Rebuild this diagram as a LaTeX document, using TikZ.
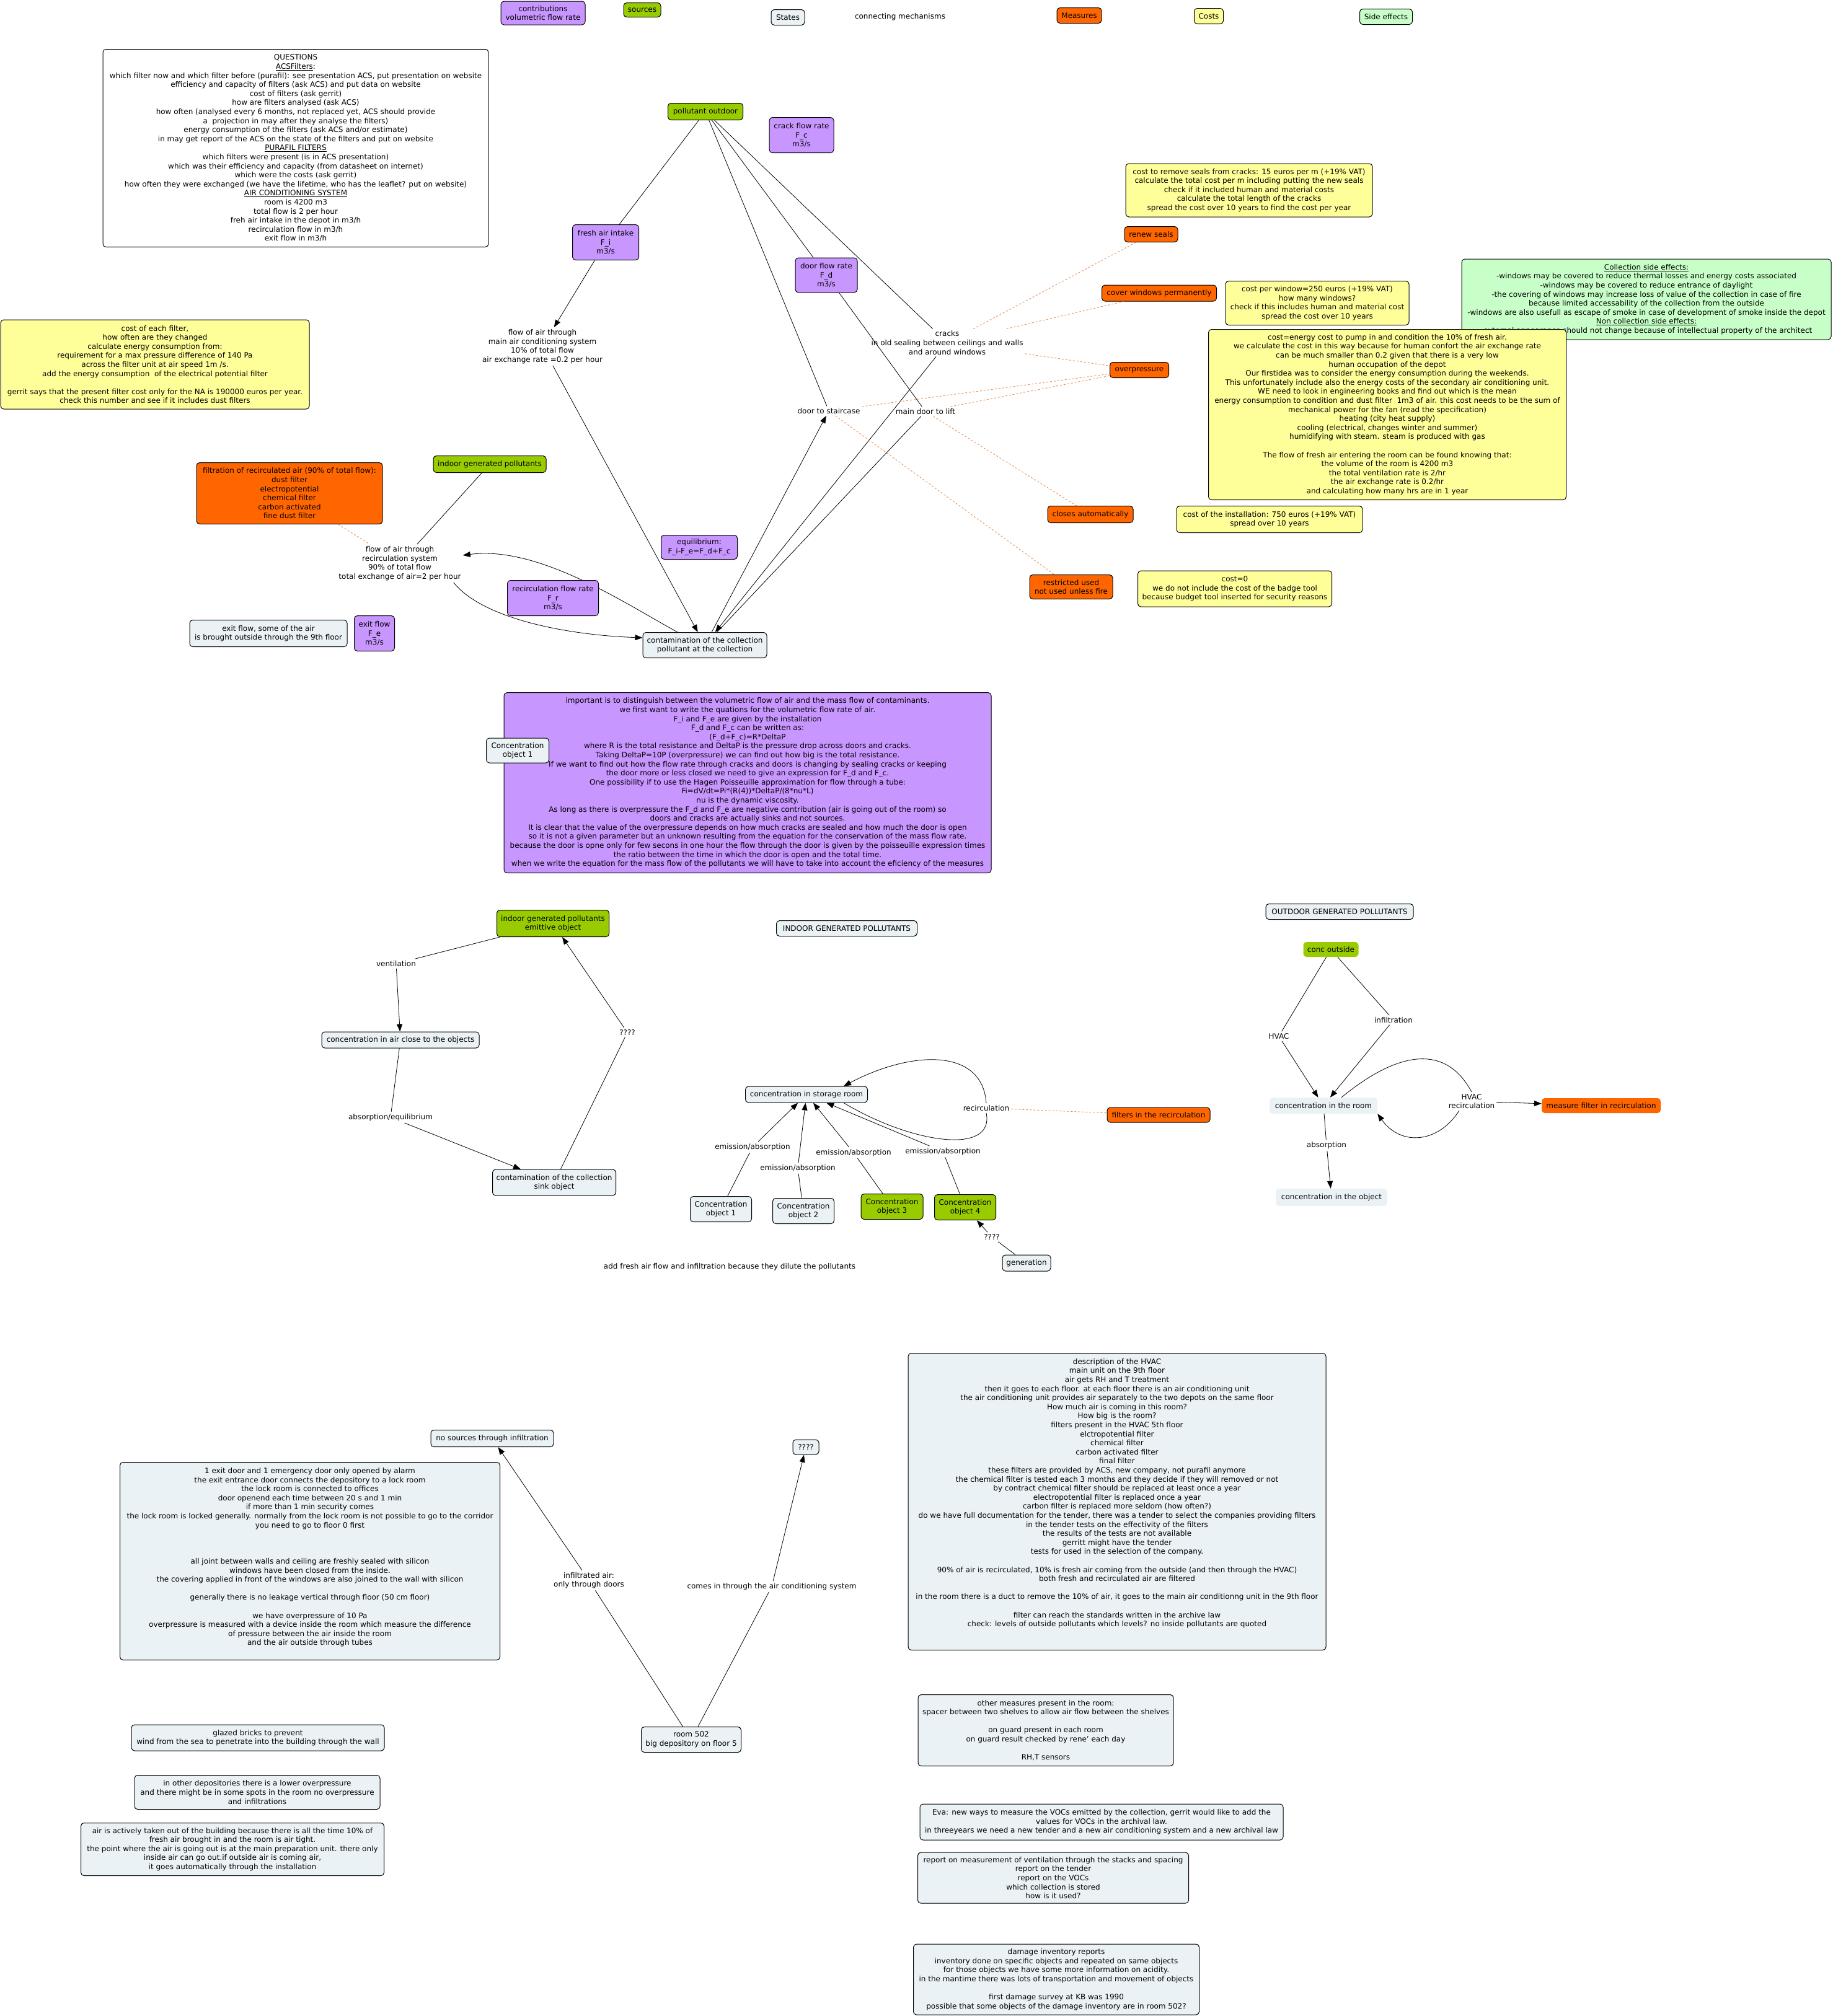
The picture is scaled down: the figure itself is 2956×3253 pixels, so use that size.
\documentclass[tikz,border=0pt]{standalone}
\usepackage{fontspec}
\setmainfont{DejaVu Sans}
\usepackage{xcolor}
\usepackage{tikz}
\usetikzlibrary{arrows.meta}

\definecolor{cmpurple}{RGB}{200,150,255}
\definecolor{cmgreen}{RGB}{153,204,0}
\definecolor{cmstate}{RGB}{235,242,245}
\definecolor{cmorange}{RGB}{255,102,0}
\definecolor{cmyellow}{RGB}{255,255,153}
\definecolor{cmside}{RGB}{200,255,200}
\definecolor{cmdash}{RGB}{232,140,80}

\begin{document}
\begin{tikzpicture}[
  x=1pt, y=-1pt,
  font=\fontsize{12pt}{14.6pt}\selectfont,
  box/.style = {draw, rounded corners=5pt, align=center, inner sep=3pt, line width=1pt},
  wh/.style 2 args = {minimum width=#1pt, minimum height=#2pt},
  volbox/.style = {box, fill=cmpurple},
  srcbox/.style = {box, fill=cmgreen},
  statebox/.style = {box, fill=cmstate},
  notebox/.style = {box, fill=white},
  measbox/.style = {box, fill=cmorange},
  costbox/.style = {box, fill=cmyellow},
  sidebox/.style = {box, fill=cmside},
  flatbox/.style = {rounded corners=5pt, align=center, inner sep=3pt},
  phrase/.style = {align=center, inner sep=3pt},
  conn/.style = {line width=0.8pt},
  seta/.style = {conn, -{Triangle[length=12pt, width=9pt]}},
  hint/.style = {cmdash, line width=0.9pt, dash pattern=on 3pt off 3pt},
]
\useasboundingbox (0,0) rectangle (2956,3253);

\node[volbox, wh={136}{38}] (lgvol) at (876,21) {contributions\\volumetric flow rate};
\node[srcbox, wh={60}{23}] (lgsrc) at (1036,16) {sources};
\node[statebox, wh={54}{25}] (lgstate) at (1271,28) {States};
\node[phrase] (lgconn) at (1452,27) {connecting mechanisms};
\node[measbox, wh={72}{25}] (lgmeas) at (1741,25) {Measures};
\node[costbox, wh={47}{25}] (lgcost) at (1950,26) {Costs};
\node[sidebox, wh={85}{25}] (lgside) at (2236,27) {Side effects};

\node[notebox, wh={622}{319}] (questions) at (477,239) {QUESTIONS\\\underline{ACSFilters}:\\which filter now and which filter before (purafil): see presentation ACS, put presentation on website\\efficiency and capacity of filters (ask ACS) and put data on website\\cost of filters (ask gerrit)\\how are filters analysed (ask ACS)\\how often (analysed every 6 months, not replaced yet, ACS should provide\\a\ \ projection in may after they analyse the filters)\\energy consumption of the filters (ask ACS and/or estimate)\\in may get report of the ACS on the state of the filters and put on website\\\underline{PURAFIL FILTERS}\\which filters were present (is in ACS presentation)\\which was their efficiency and capacity (from datasheet on internet)\\which were the costs (ask gerrit)\\how often they were exchanged (we have the lifetime, who has the leaflet? put on website)\\\underline{AIR CONDITIONING SYSTEM}\\room is 4200 m3\\total flow is 2 per hour\\freh air intake in the depot in m3/h\\recirculation flow in m3/h\\exit flow in m3/h};
\node[costbox, wh={498}{144}] (filtercost) at (250,588) {cost of each filter,\\how often are they changed\\calculate energy consumption from:\\requirement for a max pressure difference of 140 Pa\\across the filter unit at air speed 1m /s.\\add the energy consumption\ \ of the electrical potential filter\\[14.6pt]gerrit says that the present filter cost only for the NA is 190000 euros per year.\\check this number and see if it includes dust filters};
\node[measbox, wh={300}{99}] (filtration) at (467,796) {filtration of recirculated air (90\% of total flow):\\dust filter\\electropotential\\chemical filter\\carbon activated\\fine dust filter};
\node[srcbox, wh={182}{27}] (indoorpoll) at (790,749) {indoor generated pollutants};
\node[phrase] (recflow) at (645,909) {flow of air through\\recirculation system\\90\% of total flow\\total exchange of air=2 per hour};
\node[phrase] (mainflow) at (875,559) {flow of air through\\main air conditioning system\\10\% of total flow\\air exchange rate =0.2 per hour};
\node[statebox, wh={254}{43}] (exittext) at (433,1022) {exit flow, some of the air\\is brought outside through the 9th floor};
\node[volbox, wh={65}{57}] (exitrate) at (604,1022) {exit flow\\F\_e\\m3/s};
\node[srcbox, wh={121}{27}] (outdoor) at (1138,180) {pollutant outdoor};
\node[volbox, wh={104}{57}] (crackrate) at (1293,218) {crack flow rate\\F\_c\\m3/s};
\node[volbox, wh={107}{57}] (freshrate) at (977,391) {fresh air intake\\F\_i\\m3/s};
\node[volbox, wh={100}{56}] (doorrate) at (1333,444) {door flow rate\\F\_d\\m3/s};
\node[phrase] (cracks) at (1528,553) {cracks\\in old sealing between ceilings and walls\\and around windows};
\node[phrase] (staircase) at (1337,663) {door to staircase};
\node[phrase] (lift) at (1493,664) {main door to lift};
\node[volbox, wh={123}{39}] (equil) at (1128,883) {equilibrium:\\F\_i-F\_e=F\_d+F\_c};
\node[statebox, wh={200}{41}] (contam) at (1137,1041) {contamination of the collection\\pollutant at the collection};

\node[costbox, wh={398}{86}] (sealcost) at (2015,307) {cost to remove seals from cracks: 15 euros per m (+19\% VAT)\\calculate the total cost per m including putting the new seals\\check if it included human and material costs\\calculate the total length of the cracks\\spread the cost over 10 years to find the cost per year};
\node[measbox, wh={86}{25}] (renew) at (1857,378) {renew seals};
\node[measbox, wh={185}{26}] (cover) at (1870,473) {cover windows permanently};
\node[costbox, wh={296}{71}] (windowcost) at (2125,489) {cost per window=250 euros (+19\% VAT)\\how many windows?\\check if this includes human and material cost\\spread the cost over 10 years};
\node[sidebox, wh={596}{130}] (sideeff) at (2656,483) {\underline{Collection side effects:}\\-windows may be covered to reduce thermal losses and energy costs associated\\-windows may be covered to reduce entrance of daylight\\-the covering of windows may increase loss of value of the collection in case of fire\\because limited accessability of the collection from the outside\\-windows are also usefull as escape of smoke in case of development of smoke inside the depot\\\underline{Non collection side effects:}\\-external appearance should not change because of intellectual property of the architect};
\node[costbox, wh={577}{275}] (energycost) at (2238,669) {cost=energy cost to pump in and condition the 10\% of fresh air.\\we calculate the cost in this way because for human confort the air exchange rate\\can be much smaller than 0.2 given that there is a very low\\human occupation of the depot\\Our firstidea was to consider the energy consumption during the weekends.\\This unfortunately include also the energy costs of the secondary air conditioning unit.\\WE need to look in engineering books and find out which is the mean\\energy consumption to condition and dust filter\ \ 1m3 of air. this cost needs to be the sum of\\mechanical power for the fan (read the specification)\\heating (city heat supply)\\cooling (electrical, changes winter and summer)\\humidifying with steam. steam is produced with gas\\[14.6pt]The flow of fresh air entering the room can be found knowing that:\\the volume of the room is 4200 m3\\the total ventilation rate is 2/hr\\the air exchange rate is 0.2/hr\\and calculating how many hrs are in 1 year};
\node[measbox, wh={95}{25}] (overpres) at (1838,597) {overpressure};
\node[measbox, wh={138}{27}] (closes) at (1759,830) {closes automatically};
\node[costbox, wh={300}{43}] (installcost) at (2048,838) {cost of the installation: 750 euros (+19\% VAT)\\spread over 10 years};
\node[measbox, wh={134}{39}] (restricted) at (1728,947) {restricted used\\not used unless fire};
\node[costbox, wh={313}{58}] (badgecost) at (1992,950) {cost=0\\we do not include the cost of the badge tool\\because budget tool inserted for security reasons};

\draw[conn] (outdoor) -- (freshrate);
\draw[seta] (freshrate) -- (mainflow);
\draw[seta] (mainflow) -- (contam);
\draw[conn] (outdoor) -- (staircase);
\draw[seta] (contam) -- (staircase);
\draw[conn] (outdoor) -- (doorrate);
\draw[conn] (doorrate) -- (lift);
\draw[conn] (lift) -- (contam);
\draw[conn] (outdoor) -- (cracks);
\draw[seta] (cracks) -- (contam);
\draw[conn] (indoorpoll) -- (recflow);
\draw[seta] ([xshift=-44pt]contam.north) .. controls (1010,975) and (870,880) .. ([yshift=13pt]recflow.east);
\draw[seta] ([xshift=-15pt]recflow.south east) .. controls (780,1000) and (920,1025) .. ([yshift=12pt]contam.west);
\draw[hint] (filtration) -- (recflow);
\draw[hint] (cracks) -- (renew);
\draw[hint] (cracks) -- (cover);
\draw[hint] (cracks) -- (overpres);
\draw[hint] (staircase) -- (overpres);
\draw[hint] (lift) -- (overpres);
\draw[hint] (lift) -- (closes);
\draw[hint] (staircase) -- (restricted);

\node[volbox, wh={147}{57}] (recrate) at (892,965) {recirculation flow rate\\F\_r\\m3/s};

\node[volbox, wh={786}{291}] (notes) at (1206,1263) {important is to distinguish between the volumetric flow of air and the mass flow of contaminants.\\we first want to write the quations for the volumetric flow rate of air.\\F\_i and F\_e are given by the installation\\F\_d and F\_c can be written as:\\(F\_d+F\_c)=R*DeltaP\\where R is the total resistance and DeltaP is the pressure drop across doors and cracks.\\Taking DeltaP=10P (overpressure) we can find out how big is the total resistance.\\If we want to find out how the flow rate through cracks and doors is changing by sealing cracks or keeping\\the door more or less closed we need to give an expression for F\_d and F\_c.\\One possibility if to use the Hagen Poisseuille approximation for flow through a tube:\\Fi=dV/dt=Pi*(R(4))*DeltaP/(8*nu*L)\\nu is the dynamic viscosity.\\As long as there is overpressure the F\_d and F\_e are negative contribution (air is going out of the room) so\\doors and cracks are actually sinks and not sources.\\It is clear that the value of the overpressure depends on how much cracks are sealed and how much the door is open\\so it is not a given parameter but an unknown resulting from the equation for the conservation of the mass flow rate.\\because the door is opne only for few secons in one hour the flow through the door is given by the poisseuille expression times\\the ratio between the time in which the door is open and the total time.\\when we write the equation for the mass flow of the pollutants we will have to take into account the eficiency of the measures};
\node[statebox, wh={101}{40}] (noteobj) at (835,1211) {Concentration\\object 1};

\node[srcbox, wh={181}{43}] (emittive) at (892,1490) {indoor generated pollutants\\emittive object};
\node[statebox, wh={227}{25}] (indoortitle) at (1366,1498) {INDOOR GENERATED POLLUTANTS};
\node[phrase] (ventil) at (639,1555) {ventilation};
\node[statebox, wh={254}{26}] (airclose) at (646,1678) {concentration in air close to the objects};
\node[phrase] (abseq) at (630,1803) {absorption/equilibrium};
\node[statebox, wh={199}{42}] (sink) at (894,1908) {contamination of the collection\\sink object};
\node[phrase] (unknowna) at (1012,1666) {????};
\node[statebox, wh={197}{26}] (storage) at (1301,1766) {concentration in storage room};
\node[phrase] (recirc) at (1591,1788) {recirculation};
\node[measbox, wh={166}{24}] (filters) at (1869,1799) {filters in the recirculation};
\node[statebox, wh={99}{41}] (obja) at (1163,1951) {Concentration\\object 1};
\node[statebox, wh={99}{41}] (objb) at (1296,1954) {Concentration\\object 2};
\node[srcbox, wh={100}{41}] (objc) at (1439,1947) {Concentration\\object 3};
\node[srcbox, wh={99}{41}] (objd) at (1557,1948) {Concentration\\object 4};
\node[phrase] (ema) at (1214,1851) {emission/absorption};
\node[phrase] (emb) at (1287,1885) {emission/absorption};
\node[phrase] (emc) at (1377,1860) {emission/absorption};
\node[phrase] (emd) at (1521,1858) {emission/absorption};
\node[phrase] (unknownb) at (1600,1996) {????};
\node[statebox, wh={78}{26}] (generation) at (1656,2038) {generation};
\node[phrase] (addfresh) at (1177,2044) {add fresh air flow and infiltration because they dilute the pollutants};

\draw[conn] (emittive) -- (ventil);
\draw[seta] (ventil) -- (airclose);
\draw[conn] (airclose) -- (abseq);
\draw[seta] (abseq) -- (sink);
\draw[conn] (sink) -- (unknowna);
\draw[seta] (unknowna) -- (emittive);
\draw[conn] (obja) -- (ema);
\draw[seta] (ema) -- (storage);
\draw[conn] (objb) -- (emb);
\draw[seta] (emb) -- (storage);
\draw[conn] (objc) -- (emc);
\draw[seta] (emc) -- (storage);
\draw[conn] (objd) -- (emd);
\draw[seta] (emd) -- (storage);
\draw[conn] ([xshift=60pt]storage.south) .. controls (1470,1845) and (1605,1865) .. (recirc.south);
\draw[seta] (recirc.north) .. controls (1585,1690) and (1470,1695) .. ([xshift=60pt]storage.north);
\draw[hint] (recirc) -- (filters);
\draw[conn] (generation) -- (unknownb);
\draw[seta] (unknownb) -- (objd);

\node[statebox, wh={238}{25}] (outtitle) at (2161,1471) {OUTDOOR GENERATED POLLUTANTS};
\node[flatbox, fill=cmgreen, wh={89}{24}] (concout) at (2147,1532) {conc outside};
\node[phrase] (hvac) at (2063,1672) {HVAC};
\node[phrase] (infil) at (2248,1646) {infiltration};
\node[flatbox, fill=cmstate, wh={174}{26}] (room) at (2135,1784) {concentration in the room};
\node[phrase] (hvacrec) at (2374,1777) {HVAC\\recirculation};
\node[flatbox, fill=cmorange, wh={192}{24}] (measfilter) at (2583,1784) {measure filter in recirculation};
\node[phrase] (absorp) at (2140,1848) {absorption};
\node[flatbox, fill=cmstate, wh={180}{28}] (objconc) at (2148,1932) {concentration in the object};

\draw[conn] (concout) -- (hvac);
\draw[seta] (hvac) -- (room);
\draw[conn] (concout) -- (infil);
\draw[seta] (infil) -- (room);
\draw[conn] ([xshift=29pt]room.north) .. controls (2250,1700) and (2330,1680) .. (hvacrec.north);
\draw[seta] ([xshift=-20pt]hvacrec.south) .. controls (2320,1845) and (2260,1850) .. (room.south east);
\draw[seta] (hvacrec) -- (measfilter);
\draw[conn] (room) -- (absorp);
\draw[seta] (absorp) -- (objconc);

\node[statebox, wh={198}{27}] (nosource) at (794,2321) {no sources through infiltration};
\node[statebox, wh={42}{24}] (unknownc) at (1300,2335) {????};
\node[statebox, wh={613}{319}] (doorsbox) at (500,2519) {1 exit door and 1 emergency door only opened by alarm\\the exit entrance door connects the depository to a lock room\\the lock room is connected to offices\\door openend each time between 20 s and 1 min\\if more than 1 min security comes\\the lock room is locked generally. normally from the lock room is not possible to go to the corridor\\you need to go to floor 0 first\\[43.8pt]all joint between walls and ceiling are freshly sealed with silicon\\windows have been closed from the inside.\\the covering applied in front of the windows are also joined to the wall with silicon\\[14.6pt]generally there is no leakage vertical through floor (50 cm floor)\\[14.6pt]we have overpressure of 10 Pa\\overpressure is measured with a device inside the room which measure the difference\\of pressure between the air inside the room\\and the air outside through tubes\\~};
\node[phrase] (infair) at (950,2550) {infiltrated air:\\only through doors};
\node[phrase] (comesin) at (1245,2560) {comes in through the air conditioning system};
\node[statebox, wh={161}{41}] (room502) at (1115,2807) {room 502\\big depository on floor 5};
\node[statebox, wh={408}{42}] (glazed) at (416,2804) {glazed bricks to prevent\\wind from the sea to penetrate into the building through the wall};
\node[statebox, wh={396}{55}] (otherdep) at (415,2892) {in other depositories there is a lower overpressure\\and there might be in some spots in the room no overpressure\\and infiltrations};
\node[statebox, wh={489}{85}] (actively) at (375,2984) {air is actively taken out of the building because there is all the time 10\% of\\fresh air brought in and the room is air tight.\\the point where the air is going out is at the main preparation unit. there only\\inside air can go out.if outside air is coming air,\\it goes automatically through the installation};
\node[statebox, wh={674}{479}] (hvacdesc) at (1802,2423) {description of the HVAC\\main unit on the 9th floor\\air gets RH and T treatment\\then it goes to each floor. at each floor there is an air conditioning unit\\the air conditioning unit provides air separately to the two depots on the same floor\\How much air is coming in this room?\\How big is the room?\\filters present in the HVAC 5th floor\\elctropotential filter\\chemical filter\\carbon activated filter\\final filter\\these filters are provided by ACS, new company, not purafil anymore\\the chemical filter is tested each 3 months and they decide if they will removed or not\\by contract chemical filter should be replaced at least once a year\\electropotential filter is replaced once a year\\carbon filter is replaced more seldom (how often?)\\do we have full documentation for the tender, there was a tender to select the companies providing filters\\in the tender tests on the effectivity of the filters\\the results of the tests are not available\\gerritt might have the tender\\tests for used in the selection of the company.\\[14.6pt]90\% of air is recirculated, 10\% is fresh air coming from the outside (and then through the HVAC)\\both fresh and recirculated air are filtered\\[14.6pt]in the room there is a duct to remove the 10\% of air, it goes to the main air conditionng unit in the 9th floor\\[14.6pt]filter can reach the standards written in the archive law\\check: levels of outside pollutants which levels? no inside pollutants are quoted\\~\\~};
\node[statebox, wh={412}{115}] (othermeas) at (1687,2792) {other measures present in the room:\\spacer between two shelves to allow air flow between the shelves\\[14.6pt]on guard present in each room\\on guard result checked by rene' each day\\[14.6pt]RH,T sensors};
\node[statebox, wh={586}{58}] (eva) at (1777,2940) {Eva: new ways to measure the VOCs emitted by the collection, gerrit would like to add the\\values for VOCs in the archival law.\\in threeyears we need a new tender and a new air conditioning system and a new archival law};
\node[statebox, wh={437}{82}] (report) at (1699,3030) {report on measurement of ventilation through the stacks and spacing\\report on the tender\\report on the VOCs\\which collection is stored\\how is it used?};
\node[statebox, wh={461}{114}] (damage) at (1704,3194) {damage inventory reports\\inventory done on specific objects and repeated on same objects\\for those objects we have some more information on acidity.\\in the mantime there was lots of transportation and movement of objects\\[14.6pt]first damage survey at KB was 1990\\possible that some objects of the damage inventory are in room 502?};

\draw[conn] (room502) -- (infair);
\draw[seta] (infair) -- (nosource);
\draw[conn] (room502) -- (comesin);
\draw[seta] (comesin) -- (unknownc);
\end{tikzpicture}
\end{document}
